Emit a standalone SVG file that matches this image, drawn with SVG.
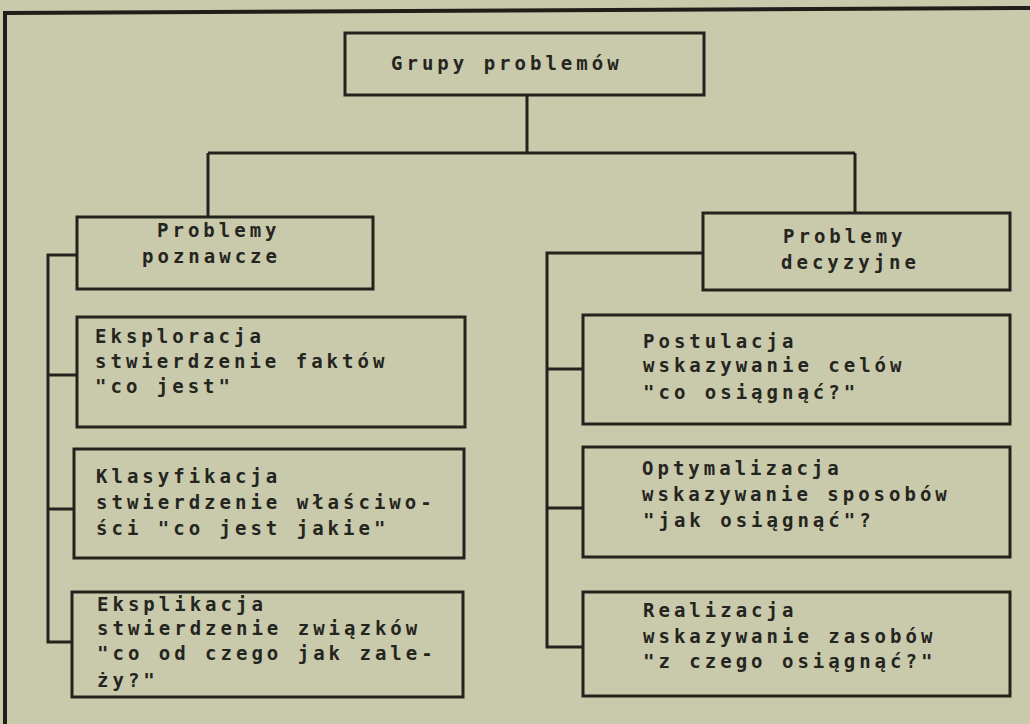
<svg xmlns="http://www.w3.org/2000/svg" width="1030" height="724" viewBox="0 0 1030 724">
<style>
.bg{fill:#c9caab}
.box{fill:none;stroke:#23231d;stroke-width:3}
.ln{fill:none;stroke:#23231d;stroke-width:3}
.fr{fill:none;stroke:#1f1f1a;stroke-width:4}
text{font-family:"DejaVu Sans Mono","Liberation Mono",monospace;font-size:19px;font-weight:bold;letter-spacing:4px;fill:#25251f}
</style>
<rect class="bg" x="0" y="0" width="1030" height="724"/>
<path class="fr" d="M5,724 L5,13 L1030,8"/>
<g id="connectors">
<path class="ln" d="M527,95 L527,153 M208,153 L855,153 M208,153 L208,217 M855,153 L855,213"/>
<path class="ln" d="M77,255 L48,255 L48,642 L72,642 M48,375 L77,375 M48,509 L74,509"/>
<path class="ln" d="M703,253 L547,253 L547,647 L583,647 M547,369 L583,369 M547,508 L583,508"/>
</g>
<g id="n-root">
<rect class="box" x="345" y="33" width="359" height="62"/>
<text x="391" y="70">Grupy problemów</text>
</g>
<g id="n-poznawcze">
<rect class="box" x="77" y="217" width="296" height="72"/>
<text x="157" y="237">Problemy</text>
<text x="142" y="263">poznawcze</text>
</g>
<g id="n-decyzyjne">
<rect class="box" x="703" y="213" width="307" height="77"/>
<text x="783" y="243">Problemy</text>
<text x="781" y="269">decyzyjne</text>
</g>
<g id="n-eksploracja">
<rect class="box" x="77" y="317" width="388" height="110"/>
<text x="95" y="343">Eksploracja</text>
<text x="95" y="368">stwierdzenie faktów</text>
<text x="95" y="393">"co jest"</text>
</g>
<g id="n-klasyfikacja">
<rect class="box" x="74" y="449" width="390" height="109"/>
<text x="96" y="483">Klasyfikacja</text>
<text x="96" y="509">stwierdzenie właściwo-</text>
<text x="96" y="535">ści "co jest jakie"</text>
</g>
<g id="n-eksplikacja">
<rect class="box" x="72" y="592" width="391" height="105"/>
<text x="97" y="611">Eksplikacja</text>
<text x="97" y="635">stwierdzenie związków</text>
<text x="97" y="660">"co od czego jak zale-</text>
<text x="97" y="687">ży?"</text>
</g>
<g id="n-postulacja">
<rect class="box" x="583" y="315" width="427" height="109"/>
<text x="643" y="348">Postulacja</text>
<text x="643" y="372">wskazywanie celów</text>
<text x="643" y="399">"co osiągnąć?"</text>
</g>
<g id="n-optymalizacja">
<rect class="box" x="583" y="447" width="427" height="110"/>
<text x="642" y="475">Optymalizacja</text>
<text x="642" y="501">wskazywanie sposobów</text>
<text x="643" y="527">"jak osiągnąć"?</text>
</g>
<g id="n-realizacja">
<rect class="box" x="583" y="592" width="427" height="104"/>
<text x="643" y="617">Realizacja</text>
<text x="643" y="643">wskazywanie zasobów</text>
<text x="643" y="668">"z czego osiągnąć?"</text>
</g>
</svg>
